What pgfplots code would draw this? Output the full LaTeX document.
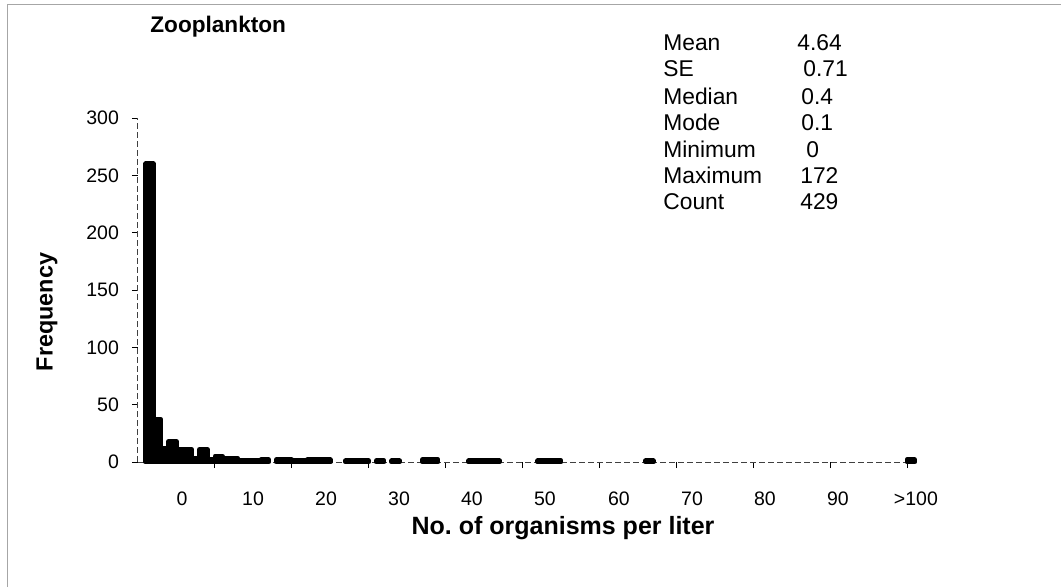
\documentclass[border=0pt]{standalone}
\usepackage{fontspec}
\setmainfont{Liberation Sans}
\usepackage{pgfplots}
\usepackage{pgfplotstable}
\pgfplotsset{compat=1.18}
% bin index (category) and frequency
\pgfplotstableread{
bin freq
1 260
2 37
3 12
4 18
5 11
6 11
7 3
8 11
9 2
10 5
11 3
12 3
13 1
14 1
15 1
16 2
18 2
19 2
20 1
21 1
22 2
23 2
24 2
27 1
28 1
29 1
31 1
33 1
37 2
38 2
43 1
44 1
45 1
46 1
52 1
53 1
54 1
66 1
100 2
}\histdata
\begin{document}
\frenchspacing
\begin{tikzpicture}
\begin{axis}[
  scale only axis, width=388.35pt, height=172pt,
  xmin=-0.5, xmax=100.5, ymin=0, ymax=300,
  axis lines=left,
  axis line style={-, black!75, line width=0.5pt, dash pattern=on 3pt off 1.5pt},
  ytick={0,50,...,300},
  xtick={9.5,19.5,...,99.5}, xticklabels={},
  extra x ticks={5.22,14.46,23.95,33.44,42.93,52.42,62.04,71.54,81.03,90.52,100.4},
  extra x tick labels={0,10,20,30,40,50,60,70,80,90,\hspace*{2pt}{>}100},
  extra x tick style={major tick length=0pt, tick style={draw=none}},
  tick align=outside, major tick length=3pt,
  tick style={black, line width=0.5pt},
  minor tick num=0,
  /pgf/number format/assume math mode=true,
  tick label style={font=\fontsize{9.75pt}{11pt}\selectfont},
  xticklabel style={yshift=-11.5pt},
  yticklabel style={xshift=-3pt},
  clip=false,
]
\addplot[ybar, bar width=1, fill=black, draw=black, line width=2.4pt, line join=round] table[x=bin, y=freq] {\histdata};

\node[anchor=west, inner sep=0pt, font=\fontsize{11.3pt}{13pt}\selectfont\bfseries] at (axis description cs:0.01545,1.2645) {Zooplankton};
\node[rotate=90, font=\fontsize{11.7pt}{13pt}\selectfont\bfseries] at (axis description cs:-0.11716,0.436) {Frequency};
\node[font=\fontsize{12.5pt}{14pt}\selectfont\bfseries] at (axis description cs:0.5472,-0.1919) {No. of organisms per liter};

\begin{scope}[every node/.style={anchor=base west, font=\fontsize{11.4pt}{13pt}\selectfont, inner sep=0pt}]
\node at (axis description cs:0.6759,1.1948) {Mean};
\node at (axis description cs:0.6759,1.1192) {SE};
\node at (axis description cs:0.6759,1.0407) {Median};
\node at (axis description cs:0.6759,0.9651) {Mode};
\node at (axis description cs:0.6759,0.8866) {Minimum};
\node at (axis description cs:0.6759,0.8110) {Maximum};
\node at (axis description cs:0.6759,0.7326) {Count};
\node at (axis description cs:0.8485,1.1948) {4.64};
\node at (axis description cs:0.8562,1.1192) {0.71};
\node at (axis description cs:0.8536,1.0407) {0.4};
\node at (axis description cs:0.8536,0.9651) {0.1};
\node at (axis description cs:0.8601,0.8866) {0};
\node at (axis description cs:0.8523,0.8110) {172};
\node at (axis description cs:0.8523,0.7326) {429};
\end{scope}

\draw[gray!70, line width=0.5pt] (axis description cs:-0.16866,-0.36337) -- (axis description cs:-0.16866,1.3285) -- (axis description cs:1.18836,1.3285);
\coordinate (BL) at (axis description cs:-0.17768,-0.36337);
\coordinate (TR) at (axis description cs:1.18836,1.34302);
\end{axis}
\pgfresetboundingbox
\path[use as bounding box] (BL) rectangle (TR);
\end{tikzpicture}
\end{document}
